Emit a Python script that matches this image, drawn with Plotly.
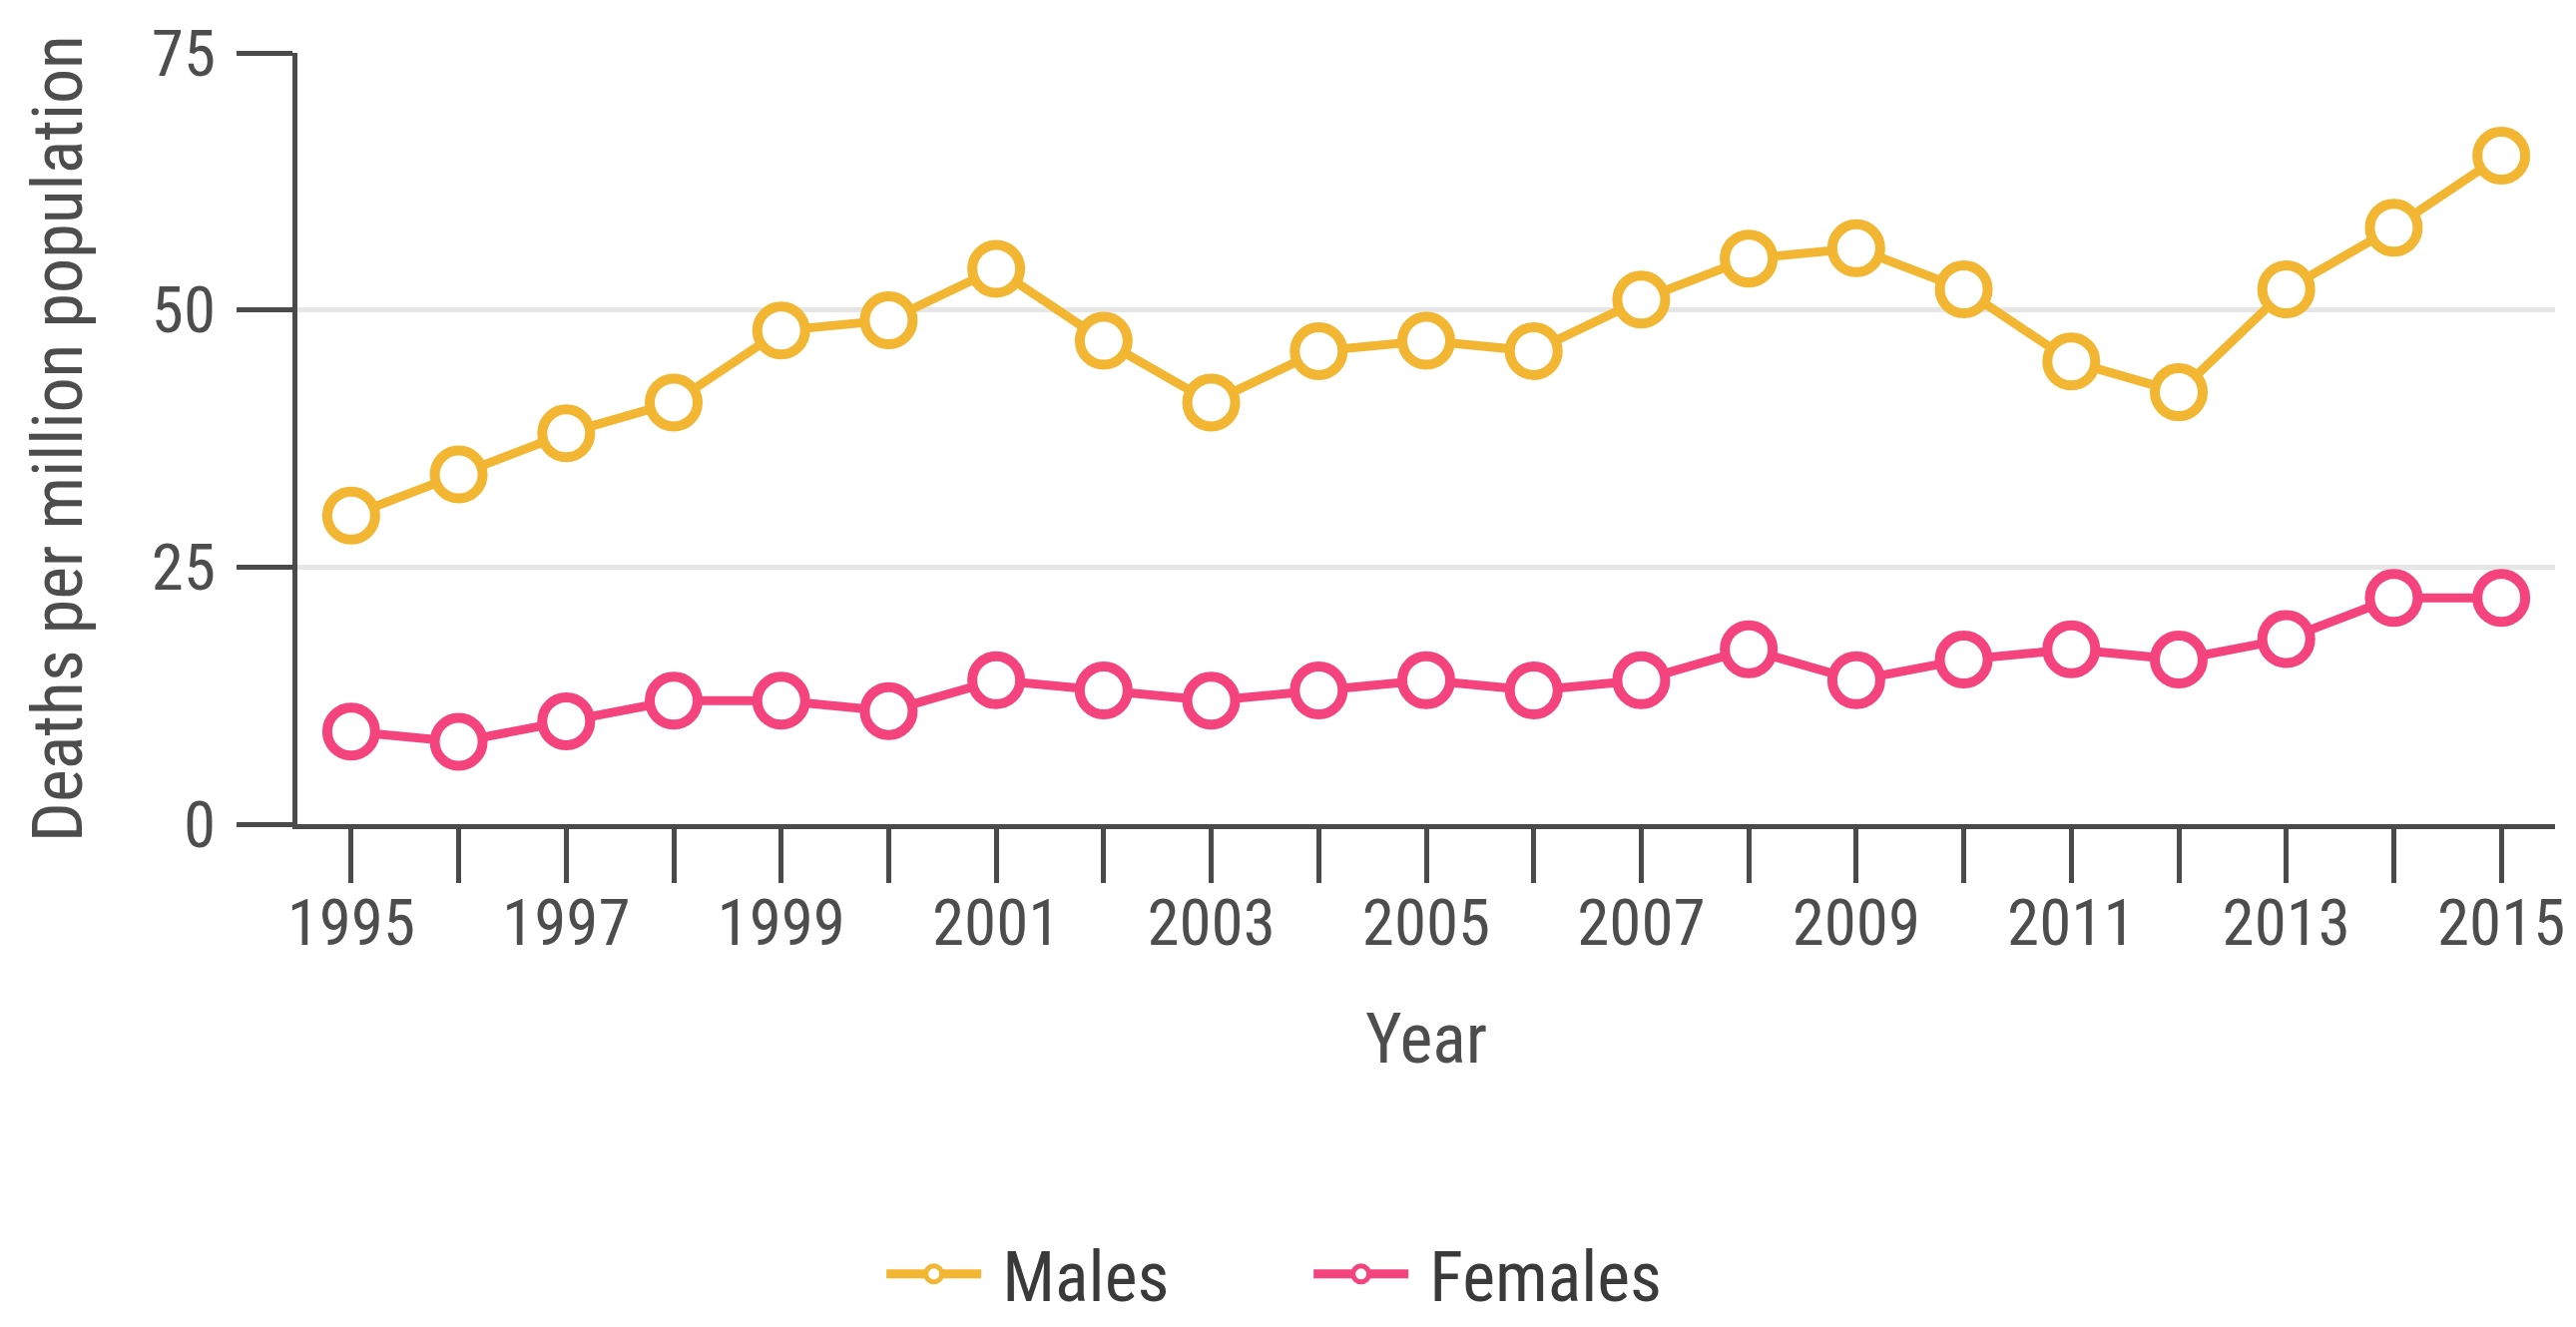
import plotly.graph_objects as go

years = list(range(1995, 2016))
males = [30, 34, 38, 41, 48, 49, 54, 47, 41, 46, 47, 46, 51, 55, 56, 52, 45, 42, 52, 58, 65]
females = [9, 8, 10, 12, 12, 11, 14, 13, 12, 13, 14, 13, 14, 17, 14, 16, 17, 16, 18, 22, 22]
series_names = ["Males", "Females"]

MALE_COLOR = "#F2B632"
FEMALE_COLOR = "#F5437E"
AXIS_COLOR = "#4a4a4a"
TEXT_COLOR = "#4d4d4d"
FONT = "Roboto Condensed, Liberation Sans Narrow, DejaVu Sans Condensed, sans-serif"

fig = go.Figure()
for name, vals, col in [(series_names[0], males, MALE_COLOR), (series_names[1], females, FEMALE_COLOR)]:
    fig.add_trace(go.Scatter(
        x=years, y=vals, name="\u00a0" + name, mode="lines+markers",
        line=dict(color=col, width=9),
        marker=dict(size=48, color="white", line=dict(color=col, width=10)),
        cliponaxis=False,
    ))

fig.update_layout(
    width=2581, height=1330,
    margin=dict(l=298, r=21, t=53, b=504),
    paper_bgcolor="white", plot_bgcolor="white",
    font=dict(family=FONT, size=65, color=TEXT_COLOR),
    showlegend=True,
    legend=dict(orientation="h", xref="container", x=0.508, xanchor="center",
                yref="container", y=0.04, yanchor="middle",
                font=dict(size=70, color="#3a3a3a"), itemwidth=95,
                entrywidth=318, traceorder="normal"),
    xaxis=dict(
        range=[1994.5, 2015.5], tickmode="linear", tick0=1995, dtick=2,
        ticks="outside", ticklen=54, tickwidth=5, tickcolor=AXIS_COLOR,
        showline=True, linecolor=AXIS_COLOR, linewidth=5,
        showgrid=False, zeroline=False,
        minor=dict(dtick=1, tick0=1995, ticks="outside", ticklen=54, tickwidth=5,
                   tickcolor=AXIS_COLOR, showgrid=False),
        ticklabelstandoff=-16,
        title=dict(text="Year", standoff=55, font=dict(size=70, color=TEXT_COLOR)),
        automargin=False,
    ),
    yaxis=dict(
        range=[0, 75], tickmode="array", tickvals=[0, 25, 50, 75],
        ticks="outside", ticklen=56, tickwidth=5, tickcolor=AXIS_COLOR,
        showline=True, linecolor=AXIS_COLOR, linewidth=5,
        showgrid=True, gridcolor="#e6e6e6", gridwidth=5,
        zeroline=False,
        ticklabelstandoff=8,
        title=dict(text="Deaths per million population", standoff=48,
                   font=dict(size=70, color=TEXT_COLOR)),
        automargin=False,
    ),
)

fig.write_html("out.html", config={"displayModeBar": False},
               post_script="document.body.style.margin='0';document.body.style.overflow='hidden';")
